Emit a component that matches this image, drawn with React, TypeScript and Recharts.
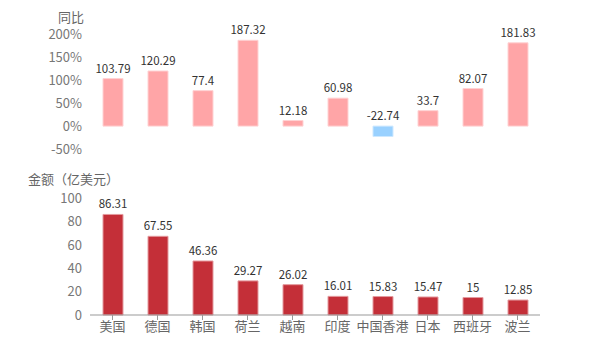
import { Bar, BarChart, Cell, LabelList, XAxis, YAxis } from 'recharts';

const countries = ['美国', '德国', '韩国', '荷兰', '越南', '印度', '中国香港', '日本', '西班牙', '波兰'];
const growth = [103.79, 120.29, 77.4, 187.32, 12.18, 60.98, -22.74, 33.7, 82.07, 181.83];
const amount = [86.31, 67.55, 46.36, 29.27, 26.02, 16.01, 15.83, 15.47, 15, 12.85];
const growthTicks = [-50, 0, 50, 100, 150, 200];
const amountTicks = [0, 20, 40, 60, 80, 100];

const font = '"Noto Sans CJK SC", "Noto Sans", sans-serif';

const topData = countries.map((name, i) => ({ name, value: growth[i] }));
const bottomData = countries.map((name, i) => ({ name, value: amount[i] }));

// label sits above the bar, or above the zero line for negative values
const TopLabel = (props: any) => {
  const { x, y, width, height, value } = props;
  const top = Math.min(y, y + height);
  return (
    <text
      x={x + width / 2}
      y={top - 6}
      textAnchor="middle"
      fill="#333"
      fontSize={11.5}
      fontFamily={font}
    >
      {value}
    </text>
  );
};

export default function App() {
  return (
    <div style={{ position: 'relative', width: 600, height: 350, background: '#fff', fontFamily: font }}>
      <style>{`body{margin:0}`}</style>

      <div style={{ position: 'absolute', left: 58, top: 10, fontSize: 13, lineHeight: '13px', color: '#666' }}>同比</div>
      <div style={{ position: 'absolute', left: 28, top: 172, fontSize: 13, lineHeight: '13px', color: '#666' }}>金额（亿美元）</div>

      <div style={{ position: 'absolute', left: 0, top: 0 }}>
        <BarChart
          width={600}
          height={165}
          data={topData}
          margin={{ top: 34.5, right: 60, left: 0, bottom: 16 }}
          barSize={20}
        >
          <XAxis dataKey="name" hide />
          <YAxis
            width={90}
            domain={[-50, 200]}
            ticks={growthTicks}
            interval={0}
            axisLine={false}
            tickLine={false}
            tickFormatter={(v: number) => `${v}%`}
            tick={{ fontSize: 13, fill: '#777', fontFamily: font }}
          />
          <Bar dataKey="value" isAnimationActive={false} strokeWidth={1}>
            {topData.map((d, i) => (
              <Cell
                key={`c-${i}`}
                fill={d.value < 0 ? '#99D1FF' : '#FFA5A7'}
                stroke={d.value < 0 ? '#CDE8FF' : '#FFD2D3'}
              />
            ))}
            <LabelList dataKey="value" content={TopLabel} />
          </Bar>
        </BarChart>
      </div>

      <div style={{ position: 'absolute', left: 0, top: 170 }}>
        <BarChart
          width={600}
          height={180}
          data={bottomData}
          margin={{ top: 28.5, right: 60, left: 0, bottom: 0 }}
          barSize={20}
        >
          <XAxis
            dataKey="name"
            height={35}
            interval={0}
            axisLine={{ stroke: '#999' }}
            tickLine={{ stroke: '#999' }}
            tickSize={5}
            tick={{ fontSize: 13, fill: '#666', fontFamily: font }}
          />
          <YAxis
            width={90}
            domain={[0, 100]}
            ticks={amountTicks}
            interval={0}
            axisLine={false}
            tickLine={false}
            tick={{ fontSize: 13, fill: '#777', fontFamily: font }}
          />
          <Bar
            dataKey="value"
            fill="#C42F38"
            stroke="#E49A9E"
            strokeWidth={1}
            isAnimationActive={false}
          >
            <LabelList
              dataKey="value"
              position="top"
              offset={6}
              style={{ fill: '#333', fontSize: 11.5, fontFamily: font }}
            />
          </Bar>
        </BarChart>
      </div>
    </div>
  );
}
